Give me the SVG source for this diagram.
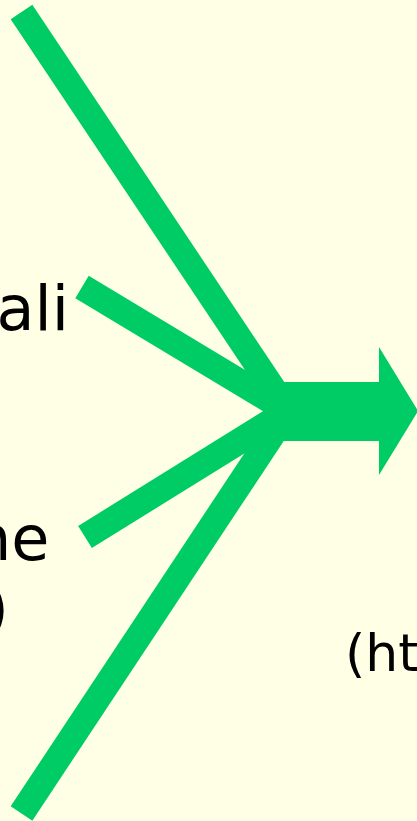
<svg xmlns="http://www.w3.org/2000/svg" width="417" height="821" viewBox="0 0 417 821">
  <style>
    .bg { fill: #FFFFE6; }
    .ln { stroke: #00CC66; stroke-width: 26; stroke-linecap: butt; fill: none; }
    .ar { fill: #00CC66; }
    .tx { font-family: "DejaVu Sans", "Liberation Sans", sans-serif; fill: #000000; }
  </style>
  <rect class="bg" x="0" y="0" width="417" height="821"/>
  <g id="connectors">
    <line class="ln" x1="21.5" y1="12" x2="288" y2="411"/>
    <line class="ln" x1="82" y1="287" x2="288" y2="411"/>
    <line class="ln" x1="85" y1="537" x2="288" y2="411"/>
    <line class="ln" x1="21.5" y1="813.5" x2="288" y2="411"/>
  </g>
  <g id="arrow">
    <polygon class="ar" points="284,382 379,382 379,347 418,411 379,475 379,441 284,441"/>
  </g>
  <g id="label-ali">
    <text class="tx" x="69" y="330" font-size="62" text-anchor="end">ali</text>
  </g>
  <g id="label-ne">
    <text class="tx" x="-28" y="560" font-size="62">ne</text>
  </g>
  <g id="label-paren">
    <text class="tx" x="9" y="630" font-size="62" text-anchor="end">)</text>
  </g>
  <g id="label-ht">
    <text class="tx" x="345" y="671" font-size="52">(ht</text>
  </g>
</svg>
